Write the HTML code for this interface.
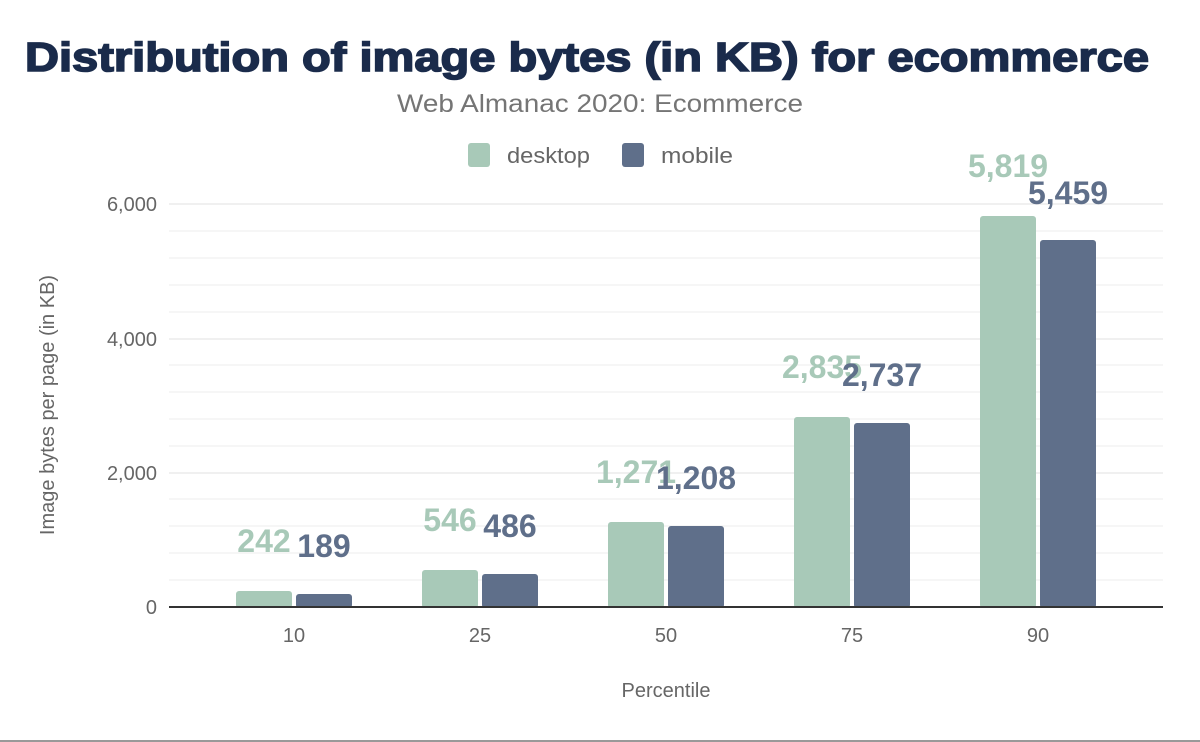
<!DOCTYPE html>
<html><head><meta charset="utf-8"><style>
html,body{margin:0;padding:0;background:#fff;}
svg{display:block;font-family:"Liberation Sans",Arial,sans-serif;}
</style></head><body>
<svg width="1200" height="742" viewBox="0 0 1200 742">
<rect width="1200" height="742" fill="#fff"/>
<text x="587" y="71" text-anchor="middle" font-size="41" font-weight="bold" fill="#1a2b4b" stroke="#1a2b4b" stroke-width="1.6" textLength="1124" lengthAdjust="spacingAndGlyphs">Distribution of image bytes (in KB) for ecommerce</text>
<text x="600" y="112" text-anchor="middle" font-size="25" fill="#757575" textLength="406" lengthAdjust="spacingAndGlyphs">Web Almanac 2020: Ecommerce</text>
<rect x="468" y="143" width="22" height="24" rx="3" fill="#a8c9b8"/>
<text x="507" y="163" font-size="22" fill="#666" textLength="83" lengthAdjust="spacingAndGlyphs">desktop</text>
<rect x="622" y="143" width="22" height="24" rx="3" fill="#5f6f8a"/>
<text x="661" y="163" font-size="22" fill="#666" textLength="72" lengthAdjust="spacingAndGlyphs">mobile</text>
<g stroke="#f3f3f3" stroke-width="1.5">
<line x1="169" x2="1163" y1="580" y2="580"/><line x1="169" x2="1163" y1="553" y2="553"/>
<line x1="169" x2="1163" y1="526" y2="526"/><line x1="169" x2="1163" y1="499" y2="499"/>
<line x1="169" x2="1163" y1="446" y2="446"/><line x1="169" x2="1163" y1="419" y2="419"/>
<line x1="169" x2="1163" y1="392" y2="392"/><line x1="169" x2="1163" y1="365" y2="365"/>
<line x1="169" x2="1163" y1="312" y2="312"/><line x1="169" x2="1163" y1="285" y2="285"/>
<line x1="169" x2="1163" y1="258" y2="258"/><line x1="169" x2="1163" y1="231" y2="231"/>
</g>
<g stroke="#ebebeb" stroke-width="1.5">
<line x1="169" x2="1163" y1="473" y2="473"/><line x1="169" x2="1163" y1="339" y2="339"/><line x1="169" x2="1163" y1="204" y2="204"/>
</g>
<g font-size="20" fill="#666" text-anchor="end">
<text x="157" y="614">0</text><text x="157" y="480">2,000</text><text x="157" y="346">4,000</text><text x="157" y="211">6,000</text>
</g>
<text transform="translate(54,405) rotate(-90)" text-anchor="middle" font-size="20" fill="#666">Image bytes per page (in KB)</text>
<g fill="#a8c9b8">
<rect x="236" y="591" width="56" height="17" rx="3"/>
<rect x="422" y="570" width="56" height="38" rx="3"/>
<rect x="608" y="522" width="56" height="86" rx="3"/>
<rect x="794" y="417" width="56" height="191" rx="3"/>
<rect x="980" y="216" width="56" height="392" rx="3"/>
</g>
<g fill="#5f6f8a">
<rect x="296" y="594" width="56" height="14" rx="3"/>
<rect x="482" y="574" width="56" height="34" rx="3"/>
<rect x="668" y="526" width="56" height="82" rx="3"/>
<rect x="854" y="423" width="56" height="185" rx="3"/>
<rect x="1040" y="240" width="56" height="368" rx="3"/>
</g>
<line x1="169" x2="1163" y1="607" y2="607" stroke="#333" stroke-width="2"/>
<g font-size="32" font-weight="bold" text-anchor="middle" fill="#a8c9b8">
<text x="264" y="552">242</text><text x="450" y="531">546</text><text x="636" y="483">1,271</text><text x="822" y="378">2,835</text><text x="1008" y="177">5,819</text>
</g>
<g font-size="32" font-weight="bold" text-anchor="middle" fill="#5f6f8a">
<text x="324" y="557">189</text><text x="510" y="537">486</text><text x="696" y="489">1,208</text><text x="882" y="386">2,737</text><text x="1068" y="204">5,459</text>
</g>
<g font-size="20" fill="#666" text-anchor="middle">
<text x="294" y="642">10</text><text x="480" y="642">25</text><text x="666" y="642">50</text><text x="852" y="642">75</text><text x="1038" y="642">90</text>
</g>
<text x="666" y="697" text-anchor="middle" font-size="20" fill="#666">Percentile</text>
<line x1="0" x2="1200" y1="741" y2="741" stroke="#999" stroke-width="2"/>
</svg>
</body></html>
